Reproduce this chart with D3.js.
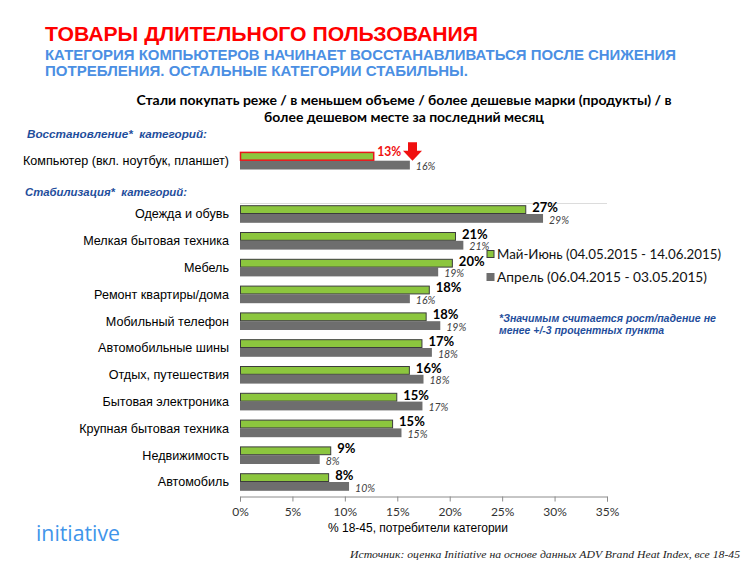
<!DOCTYPE html>
<html><head><meta charset="utf-8">
<script src="https://cdn.jsdelivr.net/npm/d3@7"></script>
<style>body{margin:0;background:#fff;} svg{display:block;}</style>
</head><body>
<script>
// ---- data ----
const categories = ["Одежда и обувь","Мелкая бытовая техника","Мебель","Ремонт квартиры/дома","Мобильный телефон","Автомобильные шины","Отдых, путешествия","Бытовая электроника","Крупная бытовая техника","Недвижимость","Автомобиль"];
const currentValues = [27.3,20.6,20.3,18.1,17.8,17.4,16.2,15.0,14.6,8.7,8.5];
const currentLabels = ["27%","21%","20%","18%","18%","17%","16%","15%","15%","9%","8%"];
const previousValues = [28.9,21.3,18.9,16.2,19.1,18.3,17.5,17.4,15.4,7.6,10.4];
const previousLabels = ["29%","21%","19%","16%","19%","18%","18%","17%","15%","8%","10%"];
const recoveryCategories = ["Компьютер (вкл. ноутбук, планшет)"];
const recoveryCurrent = [12.8];
const recoveryCurrentLabels = ["13%"];
const recoveryPrevious = [16.2];
const recoveryPreviousLabels = ["16%"];
const tickValues = [0,5,10,15,20,25,30,35];
const seriesNames = ["Май-Июнь (04.05.2015 - 14.06.2015)","Апрель (06.04.2015 - 03.05.2015)"];

const W = 750, H = 564;
const GREEN = "#8cc63e", GRAY = "#6e6e6e", DARKBLUE = "#1f4e9c", LIGHTBLUE = "#4b8fe3";
const svg = d3.select("body").append("svg").attr("width", W).attr("height", H);

// titles
svg.append("text").attr("x",45).attr("y",41).attr("fill","#f00")
  .attr("font-family","Liberation Sans, Arial, sans-serif").attr("font-weight","bold").attr("font-size",20)
  .attr("textLength",433).attr("lengthAdjust","spacingAndGlyphs").text("ТОВАРЫ ДЛИТЕЛЬНОГО ПОЛЬЗОВАНИЯ");
const sub = [["КАТЕГОРИЯ КОМПЬЮТЕРОВ НАЧИНАЕТ ВОССТАНАВЛИВАТЬСЯ ПОСЛЕ СНИЖЕНИЯ",60,631],["ПОТРЕБЛЕНИЯ. ОСТАЛЬНЫЕ КАТЕГОРИИ СТАБИЛЬНЫ.",76,423]];
sub.forEach(s=>svg.append("text").attr("x",45).attr("y",s[1]).attr("fill",LIGHTBLUE)
  .attr("font-family","Liberation Sans, Arial, sans-serif").attr("font-weight","bold").attr("font-size",14)
  .attr("textLength",s[2]).attr("lengthAdjust","spacingAndGlyphs").text(s[0]));
const ct = [["Стали покупать реже / в меньшем объеме / более дешевые марки (продукты) / в",105,535],["более дешевом месте за последний месяц",122,280]];
ct.forEach(s=>svg.append("text").attr("x",404).attr("y",s[1]).attr("text-anchor","middle").attr("fill","#000")
  .attr("font-family","Lato, sans-serif").attr("font-weight","bold").attr("font-size",13.5)
  .attr("textLength",s[2]).attr("lengthAdjust","spacingAndGlyphs").text(s[0]));

// section labels
svg.append("text").attr("x",27).attr("y",138).attr("fill",DARKBLUE).attr("font-family","Liberation Sans, Arial, sans-serif")
  .attr("font-style","italic").attr("font-weight","bold").attr("font-size",11).attr("textLength",180).attr("lengthAdjust","spacingAndGlyphs")
  .text("Восстановление*\u00a0 категорий:");
svg.append("text").attr("x",25).attr("y",196).attr("fill",DARKBLUE).attr("font-family","Liberation Sans, Arial, sans-serif")
  .attr("font-style","italic").attr("font-weight","bold").attr("font-size",11).attr("textLength",162).attr("lengthAdjust","spacingAndGlyphs")
  .text("Стабилизация*\u00a0 категорий:");

// scales
const x = d3.scaleLinear().domain([0,35]).range([240,607]);
const y = d3.scaleBand().domain(categories).range([200.6, 495.4]);
const yR = d3.scaleBand().domain(recoveryCategories).range([147.3, 174.1]);
const bh = 8.8;

svg.append("line").attr("x1",x(0)).attr("x2",x(35)).attr("y1",203.5).attr("y2",203.5).attr("stroke","#dcdcdc");

function drawGroup(scale, cats, cur, curL, prev, prevL, recovery){
  const g = svg.append("g");
  cats.forEach((c,i)=>{
    const yc = scale(c) + scale.bandwidth()/2;
    g.append("text").attr("x",229).attr("y",yc).attr("dy","0.35em").attr("text-anchor","end")
      .attr("font-family","Liberation Sans, Arial, sans-serif").attr("font-size",12.6).attr("fill","#000").text(c);
    g.append("rect").attr("x",x(0)).attr("y",yc).attr("width",x(prev[i])-x(0)).attr("height",bh)
      .attr("fill",GRAY);
    g.append("rect").attr("x",x(0)+0.5).attr("y",yc-bh+0.5).attr("width",x(cur[i])-x(0)-1).attr("height",bh-1)
      .attr("fill",GREEN).attr("stroke",recovery?"#e8141a":"#3c3c3c").attr("stroke-width",recovery?1.5:1);
    g.append("text").attr("x",x(prev[i])+6).attr("y",yc+6).attr("dy","0.35em")
      .attr("font-family","Lato, sans-serif").attr("font-style","italic").attr("font-size",10.5).attr("fill","#404040").text(prevL[i]);
    if(recovery){
      g.append("text").attr("x",x(cur[i])+3).attr("y",yc-9).attr("dy","0.35em")
        .attr("font-family","Lato, sans-serif").attr("font-weight","bold").attr("font-size",13.5).attr("fill","#f01010")
        .attr("textLength",24).attr("lengthAdjust","spacingAndGlyphs").text(curL[i]);
      const ax = 412.5;
      g.append("path").attr("d",`M${ax-4.5},${yc-18.5} L${ax+4.5},${yc-18.5} L${ax+4.5},${yc-10} L${ax+9.5},${yc-10} L${ax},${yc} L${ax-9.5},${yc-10} L${ax-4.5},${yc-10} Z`)
        .attr("fill","#f01010");
    } else {
      g.append("text").attr("x",x(cur[i])+6).attr("y",yc-6.5).attr("dy","0.35em")
        .attr("font-family","Lato, sans-serif").attr("font-weight","bold").attr("font-size",13).attr("fill","#000").text(curL[i]);
    }
  });
}
drawGroup(yR, recoveryCategories, recoveryCurrent, recoveryCurrentLabels, recoveryPrevious, recoveryPreviousLabels, true);
drawGroup(y, categories, currentValues, currentLabels, previousValues, previousLabels, false);

// axis
const axis = d3.axisBottom(x).tickValues(tickValues).tickFormat(d=>d+"%").tickSizeInner(5).tickSizeOuter(5).tickPadding(6);
const ag = svg.append("g").attr("transform","translate(0,496.5)").call(axis);
ag.selectAll("path,line").attr("stroke","#8c8c8c");
ag.selectAll("text").attr("font-family","Lato, sans-serif").attr("font-size",12).attr("fill","#333");
svg.append("text").attr("x",418).attr("y",532).attr("text-anchor","middle").attr("font-family","Liberation Sans, Arial, sans-serif")
  .attr("font-size",12).attr("fill","#000").text("% 18-45, потребители категории");

// legend
const lg = svg.append("g");
[[GREEN,"#3c3c3c"],[GRAY,GRAY]].forEach((c,i)=>{
  const ly = 254 + i*23;
  lg.append("rect").attr("x",487).attr("y",ly-3.5).attr("width",7).attr("height",7).attr("fill",c[0]).attr("stroke",c[1]).attr("stroke-width",1);
  lg.append("text").attr("x",497).attr("y",ly).attr("dy","0.35em").attr("font-family","Lato, sans-serif").attr("font-size",14)
    .attr("fill","#111").attr("textLength",i===0?224:210).attr("lengthAdjust","spacingAndGlyphs").text(seriesNames[i]);
});

// note
[["*Значимым считается рост/падение не",322,217],["менее +/-3 процентных пункта",334,165]].forEach(s=>
  svg.append("text").attr("x",499).attr("y",s[1]).attr("fill",DARKBLUE).attr("font-family","Liberation Sans, Arial, sans-serif")
    .attr("font-style","italic").attr("font-weight","bold").attr("font-size",10.5).attr("textLength",s[2]).attr("lengthAdjust","spacingAndGlyphs").text(s[0]));

// logo
svg.append("text").attr("x",36).attr("y",541).attr("fill","#3f95ea").attr("font-family","Open Sans, sans-serif")
  .attr("font-weight",400).attr("font-size",22).attr("textLength",84).attr("lengthAdjust","spacingAndGlyphs").text("initiative");

// source
svg.append("text").attr("x",740).attr("y",558).attr("text-anchor","end").attr("font-family","Liberation Serif, serif")
  .attr("font-style","italic").attr("font-size",10.5).attr("fill","#222").attr("textLength",390).attr("lengthAdjust","spacingAndGlyphs")
  .text("Источник: оценка Initiative на основе данных ADV Brand Heat Index, все 18-45");
</script>
</body></html>
